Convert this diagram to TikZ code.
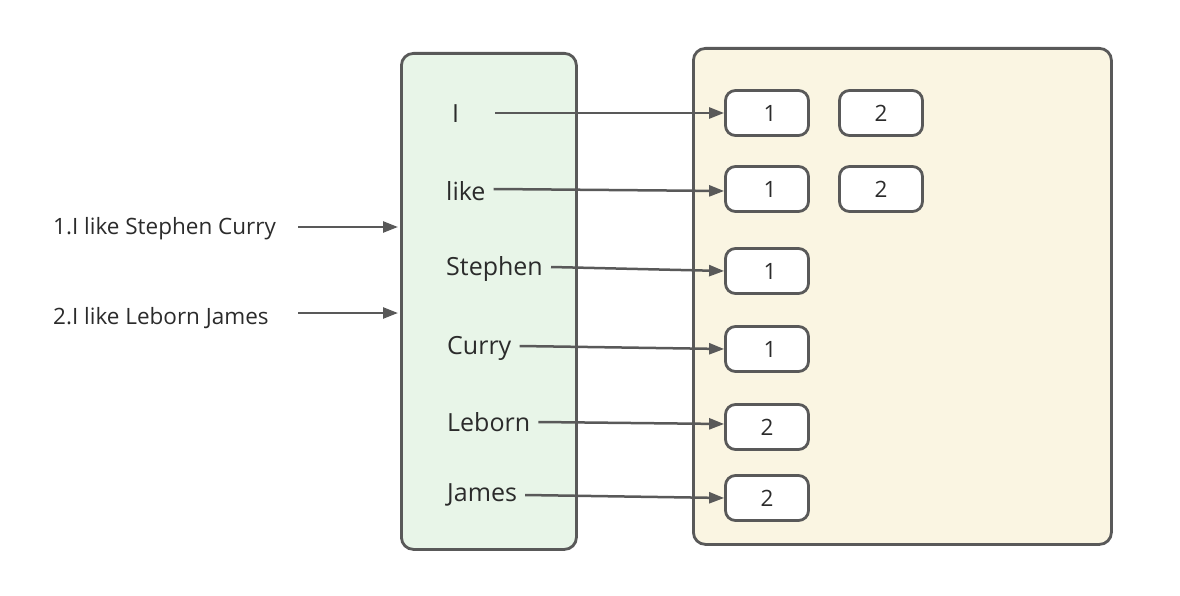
\documentclass[tikz,border=0pt]{standalone}
\usepackage{fontspec}
\setmainfont{Open Sans}
\usetikzlibrary{arrows.meta}
\definecolor{edge}{HTML}{595959}
\definecolor{txt}{HTML}{2B2B2B}
\definecolor{greenfill}{HTML}{E8F5E8}
\definecolor{yellowfill}{HTML}{FAF5E2}
\tikzset{
  panel/.style={draw=edge, line width=2.8pt, rounded corners=12pt},
  idbox/.style={draw=edge, line width=2.8pt, rounded corners=10pt, fill=white,
    minimum width=83pt, minimum height=45pt, inner sep=0pt, text=txt,
    font=\fontsize{22.5}{26}\selectfont},
  word/.style={anchor=west, inner sep=0pt, text=txt, font=\fontsize{22.5}{26}\selectfont},
  key/.style={word, font=\fontsize{25}{28}\selectfont},
  link/.style={draw=edge, line width=2.5pt, -{Triangle[length=15pt,width=11pt]}},
}
\begin{document}
\begin{tikzpicture}[x=1pt,y=-1pt]
\useasboundingbox (0,0) rectangle (1180,596);
\node[panel, fill=greenfill, minimum width=175pt, minimum height=496pt, anchor=north west] (dict) at (400,52) {};
\node[panel, fill=yellowfill, minimum width=418pt, minimum height=496pt, anchor=north west] (post) at (692,47) {};

\node[word] (s1) at (53,229) {1.I like Stephen Curry};
\node[word] (s2) at (53,318) {2.I like Leborn James};
\coordinate (in1) at (398,227);
\coordinate (in2) at (398,313);
\draw[link] (298,227) -- (in1);
\draw[link] (298,313) -- (in2);

\node[key] (wI) at (452,114) {I};
\node[key] (wlike) at (446,191) {like};
\node[key] (wStephen) at (446,269) {Stephen};
\node[key] (wCurry) at (447,348) {Curry};
\node[key] (wLeborn) at (447,422) {Leborn};
\node[key] (wJames) at (447,495) {James};

\node[idbox] (b11) at (767,113) {\hspace*{6pt}1};
\node[idbox] (b12) at (881,113) {2};
\node[idbox] (b21) at (767,189) {\hspace*{6pt}1};
\node[idbox] (b22) at (881,189) {2};
\node[idbox] (b3) at (767,271) {\hspace*{6pt}1};
\node[idbox] (b4) at (767,349) {\hspace*{6pt}1};
\node[idbox] (b5) at (767,427) {2};
\node[idbox] (b6) at (767,498) {2};

\draw[link] (495,113) -- (b11.west);
\draw[link] ([xshift=8pt,yshift=2pt]wlike.east) -- ([yshift=-2pt]b21.west);
\draw[link] ([xshift=8pt,yshift=2pt]wStephen.east) -- (b3.west);
\draw[link] ([xshift=8pt,yshift=2pt]wCurry.east) -- (b4.west);
\draw[link] ([xshift=8pt]wLeborn.east) -- ([yshift=3pt]b5.west);
\draw[link] ([xshift=8pt]wJames.east) -- (b6.west);
\end{tikzpicture}
\end{document}
